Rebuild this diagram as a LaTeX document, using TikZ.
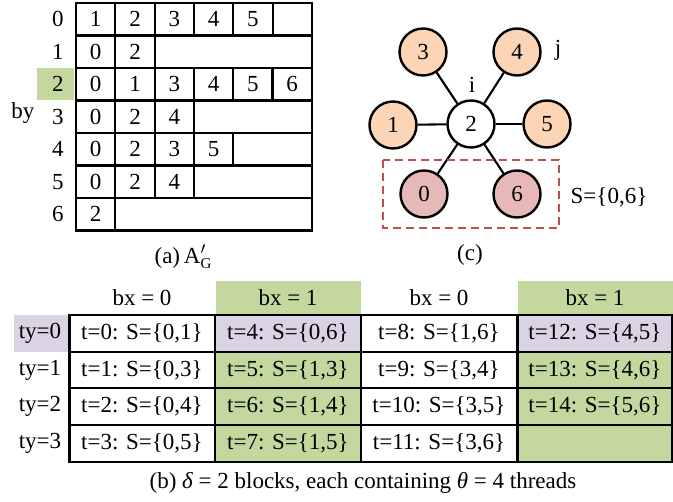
\documentclass[tikz,border=0pt]{standalone}
\usepackage{fontspec}
\setmainfont{Liberation Serif}
\definecolor{lgreen}{HTML}{C4D79F}
\definecolor{lpurple}{HTML}{D9D3E3}
\definecolor{lorange}{HTML}{FBD5B5}
\definecolor{lpink}{HTML}{E6B9B8}
\definecolor{dred}{HTML}{C0504D}

\begin{document}
\begin{tikzpicture}[x=1pt,y=-1pt,
  every node/.style={font=\fontsize{23}{27}\selectfont, inner sep=0pt},
  cell/.style={draw, line width=2.1pt, minimum width=39.4pt, minimum height=32.5pt},
  vtx/.style={circle, draw, line width=2.4pt, minimum size=47pt},
  rule/.style={line width=2.1pt}]
\useasboundingbox (0,0) rectangle (673,502);

% (a) adjacency rows
\fill[lgreen] (37,68) rectangle (74,100.5);
\node (by) at (23,113) {by};
\foreach \r/\vals in {0/{1,2,3,4,5},1/{0,2},2/{0,1,3,4,5,6},3/{0,2,4},4/{0,2,3,5},5/{0,2,4},6/{2}} {
  \node (by\r) at (58,19.25+32.5*\r) {\r};
  \draw[rule] (76,3+32.5*\r) rectangle (312,35.5+32.5*\r);
  \foreach \v [count=\c from 0] in \vals
    \node[cell] (a\r\c) at (95.7+39.3*\c,19.25+32.5*\r) {\v};
}
\node (capa) at (183,257) {(a)\,A\rlap{$'$}\raisebox{-0.45ex}{\fontsize{15}{15}\selectfont G}};

% (c) star around vertex 2
\node[vtx, fill=white] (v2) at (471,124) {2};
\node[vtx, fill=lorange] (v3) at (423,52) {3};
\node[vtx, fill=lorange] (v4) at (517,52) {4};
\node[vtx, fill=lorange] (v1) at (393,125) {1};
\node[vtx, fill=lorange] (v5) at (547,124) {5};
\node[vtx, fill=lpink] (v0) at (424,194) {0};
\node[vtx, fill=lpink] (v6) at (517,194) {6};
\foreach \n in {0,1,3,4,5,6}
  \draw[rule] (v2) -- (v\n);
\draw[dred, line width=2.4pt, dash pattern=on 8pt off 5pt] (383,160) rectangle (559,228);
\node (lj) at (558,50) {j};
\node (li) at (472,85) {i};
\node (lS) at (609,197) {S=\{0,6\}};
\node (capc) at (470,255) {(c)};

% (b) thread table
\fill[lgreen] (216,281.5) rectangle (361,315);
\fill[lgreen] (517.5,281.5) rectangle (673,315);
\node (bx0) at (142,298) {bx = 0};
\node (bx1) at (288,298) {bx = 1};
\node (bx2) at (439,298) {bx = 0};
\node (bx3) at (595,298) {bx = 1};
\fill[lpurple] (14,315) rectangle (68,351.7);
\foreach \r in {0,...,3}
  \node (ty\r) at (40,333.4+36.67*\r) {ty=\r};
\fill[lgreen] (215,315) rectangle (361,461.7);
\fill[lgreen] (517.5,315) rectangle (672,461.7);
\fill[lpurple] (215,315) rectangle (361,351.7);
\fill[lpurple] (517.5,315) rectangle (672,351.7);
\draw[rule] (69.5,315) rectangle (672,461.7);
\foreach \y in {351.7,388.3,425}
  \draw[rule] (69.5,\y) -- (672,\y);
\foreach \x in {215,361,517.5}
  \draw[rule] (\x,315) -- (\x,461.7);
\foreach \t/\s/\cx in {0/{0,1}/142,1/{0,3}/142,2/{0,4}/142,3/{0,5}/142,
    4/{0,6}/288,5/{1,3}/288,6/{1,4}/288,7/{1,5}/288,
    8/{1,6}/439,9/{3,4}/439,10/{3,5}/439,11/{3,6}/439,
    12/{4,5}/595,13/{4,6}/595,14/{5,6}/595}
  \node (t\t) at ({\cx},{333.4+36.67*mod(\t,4)}) {t=\t: S=\{\s\}};
\node (capb) at (363,483) {(b) {\itshape δ} = 2 blocks, each containing {\itshape θ} = 4 threads};
\end{tikzpicture}
\end{document}
